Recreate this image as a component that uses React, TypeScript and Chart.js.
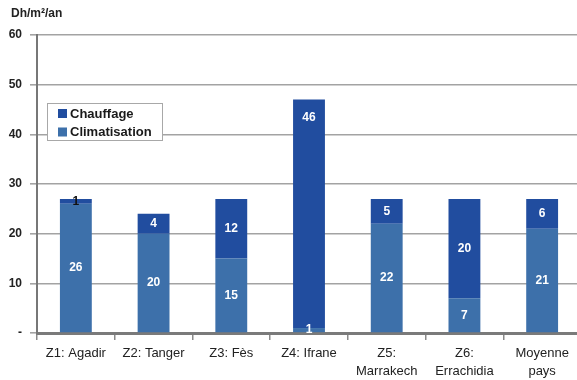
import React, { useEffect, useRef } from "react";
import { Chart, registerables } from "chart.js";

Chart.register(...registerables);

const categories: string[][] = [
  ["Z1: Agadir"],
  ["Z2: Tanger"],
  ["Z3: Fès"],
  ["Z4: Ifrane"],
  ["Z5:", "Marrakech"],
  ["Z6:", "Errachidia"],
  ["Moyenne", "pays"],
];
const climatisation = [26, 20, 15, 1, 22, 7, 21];
const chauffage = [1, 4, 12, 46, 5, 20, 6];
const yMax = 60;
const yStep = 10;
const unitLabel = "Dh/m²/an";
const seriesNames = ["Chauffage", "Climatisation"];

const COLOR_CHAUFFAGE = "#214d9f";
const COLOR_CLIM = "#3d70aa";
const FONT = "'Liberation Sans', Arial, Helvetica, sans-serif";

// Values written inside each stacked segment; very tall segments carry
// their value near the top end instead of the middle.
const segmentLabels = {
  id: "segmentLabels",
  afterDatasetsDraw(chart: any) {
    const ctx = chart.ctx;
    ctx.save();
    ctx.font = `bold 12px ${FONT}`;
    ctx.textAlign = "center";
    ctx.textBaseline = "middle";
    chart.data.datasets.forEach((ds: any, di: number) => {
      const meta = chart.getDatasetMeta(di);
      meta.data.forEach((bar: any, i: number) => {
        const v = ds.data[i];
        const top = Math.min(bar.y, bar.base);
        const h = Math.abs(bar.base - bar.y);
        const isTop = di === chart.data.datasets.length - 1;
        ctx.fillStyle = isTop && h < 8 ? "#111111" : "#ffffff";
        const y = h > 150 ? top + 18 : (bar.y + bar.base) / 2;
        ctx.fillText(String(v), bar.x, y);
      });
    });
    ctx.restore();
  },
};

// Unit title and the boxed legend inside the plot
const decorations = {
  id: "decorations",
  afterDraw(chart: any) {
    const ctx = chart.ctx;
    ctx.save();
    ctx.fillStyle = "#222222";
    ctx.font = `bold 12px ${FONT}`;
    ctx.textAlign = "left";
    ctx.textBaseline = "middle";
    ctx.fillText(unitLabel, 11, 14);

    const bx = 47.5, by = 103.5, bw = 115, bh = 37;
    ctx.fillStyle = "#ffffff";
    ctx.fillRect(bx, by, bw, bh);
    ctx.strokeStyle = "#a8a8a8";
    ctx.lineWidth = 1;
    ctx.strokeRect(bx, by, bw, bh);

    const colors = [COLOR_CHAUFFAGE, COLOR_CLIM];
    const rows = [113.5, 132];
    ctx.font = `bold 13px ${FONT}`;
    seriesNames.forEach((name, i) => {
      ctx.fillStyle = colors[i];
      ctx.fillRect(58, rows[i] - 4.5, 9, 9);
      ctx.fillStyle = "#1a1a1a";
      ctx.fillText(name, 70, rows[i] + 0.5);
    });
    ctx.restore();
  },
};

export default function App() {
  const ref = useRef<HTMLCanvasElement | null>(null);

  useEffect(() => {
    if (!ref.current) return;
    const chart = new Chart(ref.current, {
      type: "bar",
      data: {
        labels: categories,
        datasets: [
          {
            label: seriesNames[1],
            data: climatisation,
            backgroundColor: COLOR_CLIM,
            categoryPercentage: 1,
            barPercentage: 0.41,
          },
          {
            label: seriesNames[0],
            data: chauffage,
            backgroundColor: COLOR_CHAUFFAGE,
            categoryPercentage: 1,
            barPercentage: 0.41,
          },
        ],
      },
      options: {
        responsive: false,
        animation: false,
        layout: { padding: { top: 35, right: 1, left: 0, bottom: 0 } },
        plugins: {
          legend: { display: false },
          tooltip: { enabled: false },
        },
        scales: {
          x: {
            stacked: true,
            offset: true,
            grid: {
              offset: true,
              drawOnChartArea: false,
              drawTicks: true,
              tickLength: 7,
              color: "#8a8a8a",
              lineWidth: 1.5,
            },
            border: { display: true, color: "#7a7a7a", width: 3 },
            ticks: {
              color: "#222222",
              font: { family: FONT, size: 13, lineHeight: 1.4 },
              padding: 4,
              maxRotation: 0,
              autoSkip: false,
            },
            afterFit(scale: any) {
              scale.height = 47;
            },
          },
          y: {
            stacked: true,
            min: 0,
            max: yMax,
            grid: {
              color: "#a3a3a3",
              lineWidth: 1.6,
              drawTicks: true,
              tickLength: 7,
            },
            border: { display: true, color: "#777777", width: 2 },
            ticks: {
              stepSize: yStep,
              color: "#222222",
              font: { family: FONT, size: 12, weight: "bold" },
              padding: 8,
              callback: (v: any) => (v === 0 ? "-" : String(v)),
            },
            afterFit(scale: any) {
              scale.width = 37;
            },
          },
        },
      },
      plugins: [segmentLabels, decorations],
    });
    return () => chart.destroy();
  }, []);

  return (
    <div
      style={{
        position: "fixed",
        left: 0,
        top: 0,
        width: 577,
        height: 380,
        overflow: "hidden",
        background: "#ffffff",
      }}
    >
      <canvas ref={ref} width={582} height={380} style={{ display: "block" }} />
    </div>
  );
}
